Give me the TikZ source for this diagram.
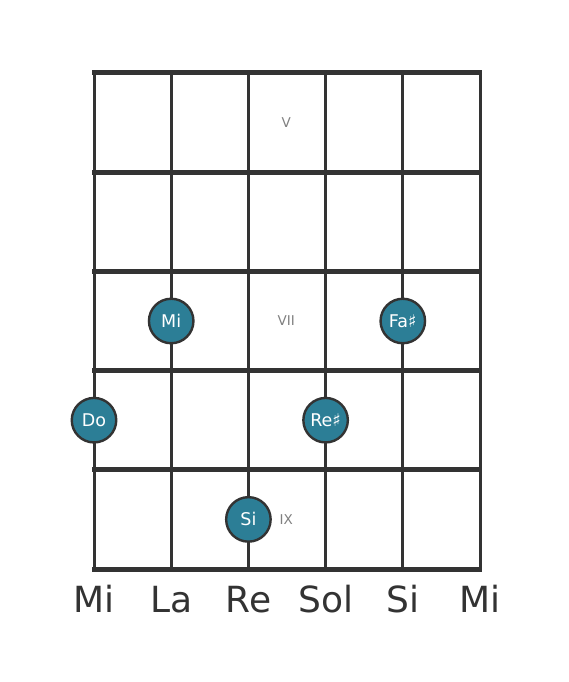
\documentclass[tikz,border=0pt]{standalone}
\usepackage{fontspec}
\setmainfont{DejaVu Sans}
\definecolor{dotfill}{RGB}{44,126,150}
\definecolor{gridline}{RGB}{51,51,51}
\begin{document}
\begin{tikzpicture}[x=77.2pt, y=-99.2pt,
	note/.style={circle, fill=dotfill, draw=gridline, line width=2.4pt, minimum size=44.5pt, inner sep=0pt, text=white, font=\fontsize{17.5}{17.5}\selectfont},
	fretnum/.style={text=gray, font=\fontsize{13.5}{13.5}\selectfont},
	tuning/.style={text=gridline, anchor=base, font=\fontsize{36}{36}\selectfont}]
	\useasboundingbox (-94pt,73pt) rectangle (474pt,-609pt);

	% strings and frets
	\foreach \s in {0,...,5}
		\draw[gridline, line width=3pt] (\s,0) -- (\s,5);
	\foreach \f in {0,...,5}
		\draw[gridline, line width=5pt] (-0.02,\f) -- (5.02,\f);

	\node[fretnum] (v) at (2.49,0.5) {V};
	\node[fretnum] (vii) at (2.49,2.5) {VII};
	\node[fretnum] (ix) at (2.49,4.5) {IX};

	\node[note] (mi) at (1,2.5) {Mi};
	\node[note] (fas) at (4,2.5) {Fa♯};
	\node[note] (do) at (0,3.5) {Do};
	\node[note] (res) at (3,3.5) {Re♯};
	\node[note] (si) at (2,4.5) {Si};

	\node[tuning] (t1) at (0,5.434) {Mi};
	\node[tuning] (t2) at (1,5.434) {La};
	\node[tuning] (t3) at (2,5.434) {Re};
	\node[tuning] (t4) at (3,5.434) {Sol};
	\node[tuning] (t5) at (4,5.434) {Si};
	\node[tuning] (t6) at (5,5.434) {Mi};
\end{tikzpicture}
\end{document}
